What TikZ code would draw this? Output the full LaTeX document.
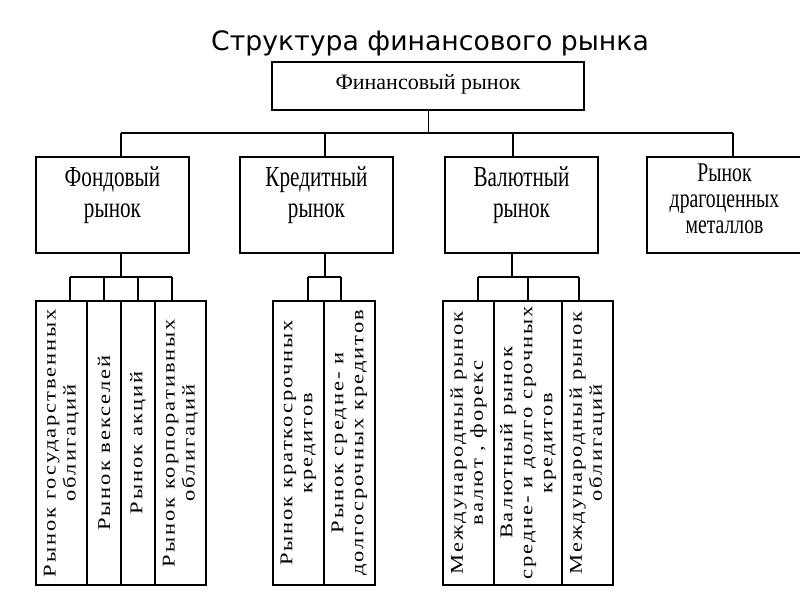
\documentclass[tikz,border=0pt]{standalone}
\usepackage{fontspec}
\setmainfont{Liberation Serif}
\newfontfamily\titlefont{DejaVu Sans}
\newfontfamily\boxfont[FakeStretch=0.73]{Liberation Serif}
\newfontfamily\leaffont[FakeStretch=1.25,LetterSpace=11]{Liberation Serif}
\tikzset{
  box/.style={draw, line width=1.6pt, inner sep=0pt, align=center},
  levelbox/.style={box, minimum width=153pt, minimum height=96pt,
    text height=60pt, text depth=36pt, font=\boxfont\fontsize{29}{31}\selectfont},
  leaf/.style={box, rotate=90, minimum width=284pt,
    font=\leaffont\fontsize{18}{20}\selectfont},
  link/.style={line width=1.3pt}
}
\begin{document}
\begin{tikzpicture}[x=1pt,y=-1pt]
      \useasboundingbox (0,0) rectangle (800,600);
      \clip (0,0) rectangle (800,600);
      \node[font=\titlefont\fontsize{26.7}{32}\selectfont, anchor=base] (title)
        at (430,50) {Структура финансового рынка};
      \node[box, minimum width=312pt, minimum height=48pt, text height=27pt,
        text depth=21pt, font=\fontsize{22}{26}\selectfont] (fin)
        at (428,86) {Финансовый рынок};
      \node[levelbox] (fond) at (112.5,205) {Фондовый\\рынок};
      \node[levelbox] (kred) at (316.5,205) {Кредитный\\рынок};
      \node[levelbox] (val) at (521.5,205) {Валютный\\рынок};
      \node[levelbox, minimum width=155pt, text height=76pt, text depth=20pt,
        font=\boxfont\fontsize{27}{26}\selectfont] (met)
        at (724.5,205) {Рынок\\драгоценных\\металлов};
      \node[leaf, minimum height=51pt] (fa) at (61.5,443) {Рынок государственных\\облигаций};
      \node[leaf, minimum height=34pt] (fb) at (104,443) {Рынок векселей};
      \node[leaf, minimum height=34pt] (fc) at (138,443) {Рынок акций};
      \node[leaf, minimum height=51pt] (fd) at (180.5,443) {Рынок корпоративных\\облигаций};
      \node[leaf, minimum height=51pt] (ka) at (298.5,443) {Рынок краткосрочных\\кредитов};
      \node[leaf, minimum height=51pt] (kb) at (349.5,443) {Рынок средне- и\\долгосрочных кредитов};
      \node[leaf, minimum height=51pt] (va) at (468.5,443) {Международный рынок\\валют , форекс};
      \node[leaf, minimum height=68pt] (vb) at (528,443) {Валютный рынок\\средне- и долго срочных\\кредитов};
      \node[leaf, minimum height=51pt] (vc) at (587.5,443) {Международный рынок\\облигаций};
      \coordinate (d1) at (121,133);
      \coordinate (d2) at (325,133);
      \coordinate (d3) at (513,133);
      \coordinate (d4) at (733,133);
      \coordinate (fj) at (121,277);
      \coordinate (f1) at (70,277);
      \coordinate (f2) at (104,277);
      \coordinate (f3) at (138,277);
      \coordinate (f4) at (172,277);
      \coordinate (kj) at (325,277);
      \coordinate (k1) at (308,277);
      \coordinate (k2) at (341,277);
      \coordinate (vj) at (512,277);
      \coordinate (v1) at (478,277);
      \coordinate (v2) at (528,277);
      \coordinate (v3) at (579,277);
      \begin{scope}[link]
        \draw[line width=1pt] (fin.south) to (fin.south |- d1);
        \draw[line width=1.6pt] (d1) to (d4);
        \draw (d1) to (d1 |- fond.north);
        \draw (d2) to (d2 |- kred.north);
        \draw (d3) to (d3 |- val.north);
        \draw (d4) to (d4 |- met.north);
        \draw (fj |- fond.south) to (fj);
        \draw (kj |- kred.south) to (kj);
        \draw (vj |- val.south) to (vj);
        \draw (f1) to (f4);
        \draw (k1) to (k2);
        \draw (v1) to (v3);
        \foreach \c in {f1,f2,f3,f4,k1,k2,v1,v2,v3}
          \draw (\c) to (\c |- fa.east);
      \end{scope}
    \end{tikzpicture}
\end{document}
